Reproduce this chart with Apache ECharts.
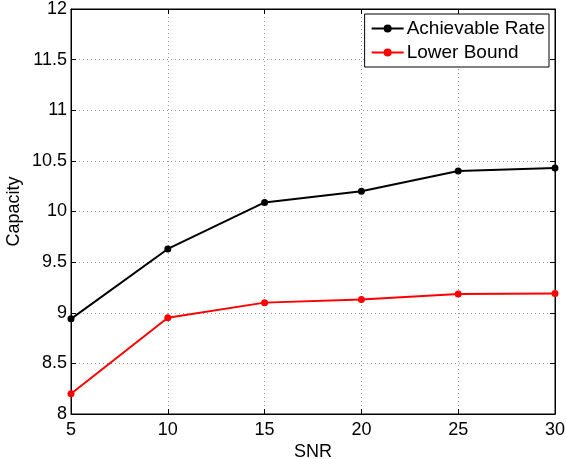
<!DOCTYPE html>
<html>
<head>
<meta charset="utf-8">
<script src="https://cdn.jsdelivr.net/npm/echarts@6/dist/echarts.min.js"></script>
<style>
  html, body { margin: 0; padding: 0; background: #fff; }
  #chart { width: 566px; height: 459px; }
</style>
</head>
<body>
<div id="chart"></div>
<script>
// data
const snr = [5, 10, 15, 20, 25, 30];
const achievable = [8.94, 9.63, 10.09, 10.20, 10.40, 10.43];
const lowerBound = [8.20, 8.95, 9.10, 9.13, 9.185, 9.19];
const seriesNames = ['Achievable Rate', 'Lower Bound'];

const font = 'Liberation Sans, Arial, sans-serif';

function pairs(xs, ys) {
    return xs.map(function (x, i) { return [x, ys[i]]; });
}

var chart = echarts.init(document.getElementById('chart'));

var gridLine = {
    show: true,
    lineStyle: { color: '#999', type: [1, 3], width: 1 }
};

option = {
    animation: false,
    backgroundColor: '#fff',
    grid: {
        left: 71,
        right: 11,
        top: 9,
        bottom: 45,
        outerBoundsMode: 'none',
        containLabel: false,
        show: true,
        borderColor: '#000',
        borderWidth: 1
    },
    legend: {
        right: 17,
        top: 14,
        orient: 'vertical',
        data: seriesNames,
        backgroundColor: '#fff',
        borderColor: '#000',
        borderWidth: 1,
        borderRadius: 0,
        padding: [5, 4, 5, 6],
        itemGap: 5,
        itemWidth: 32,
        itemHeight: 10,
        textStyle: { fontFamily: font, fontSize: 19, color: '#000', padding: [0, 0, 0, -2] }
    },
    xAxis: [{
        type: 'value',
        min: 5,
        max: 30,
        interval: 5,
        name: 'SNR',
        nameLocation: 'middle',
        nameGap: 29,
        nameMoveOverlap: false,
        nameTextStyle: { fontFamily: font, fontSize: 18, color: '#000' },
        axisLine: { show: true, onZero: false, lineStyle: { color: '#000', width: 1 } },
        axisTick: { show: true, inside: true, length: 5, lineStyle: { color: '#000' } },
        axisLabel: { fontFamily: font, fontSize: 18, color: '#000', margin: 7 },
        splitLine: gridLine
    }, {
        type: 'value',
        position: 'top',
        min: 5,
        max: 30,
        interval: 5,
        axisLine: { show: true, onZero: false, lineStyle: { color: '#000', width: 1 } },
        axisTick: { show: true, inside: true, length: 5, lineStyle: { color: '#000' } },
        axisLabel: { show: false },
        splitLine: { show: false }
    }],
    yAxis: [{
        type: 'value',
        min: 8,
        max: 12,
        interval: 0.5,
        name: 'Capacity',
        nameLocation: 'middle',
        nameGap: 48,
        nameMoveOverlap: false,
        nameTextStyle: { fontFamily: font, fontSize: 18, color: '#000' },
        axisLine: { show: true, onZero: false, lineStyle: { color: '#000', width: 1 } },
        axisTick: { show: true, inside: true, length: 5, lineStyle: { color: '#000' } },
        axisLabel: { fontFamily: font, fontSize: 18, color: '#000', margin: 4 },
        splitLine: gridLine
    }, {
        type: 'value',
        position: 'right',
        min: 8,
        max: 12,
        interval: 0.5,
        axisLine: { show: true, onZero: false, lineStyle: { color: '#000', width: 1 } },
        axisTick: { show: true, inside: true, length: 5, lineStyle: { color: '#000' } },
        axisLabel: { show: false },
        splitLine: { show: false }
    }],
    series: [{
        name: seriesNames[0],
        type: 'line',
        data: pairs(snr, achievable),
        symbol: 'circle',
        symbolSize: 7,
        lineStyle: { width: 2, color: '#000' },
        itemStyle: { color: '#000' }
    }, {
        name: seriesNames[1],
        type: 'line',
        data: pairs(snr, lowerBound),
        symbol: 'circle',
        symbolSize: 7,
        lineStyle: { width: 2, color: '#ff0000' },
        itemStyle: { color: '#ff0000' }
    }]
};
chart.setOption(option);
</script>
</body>
</html>
